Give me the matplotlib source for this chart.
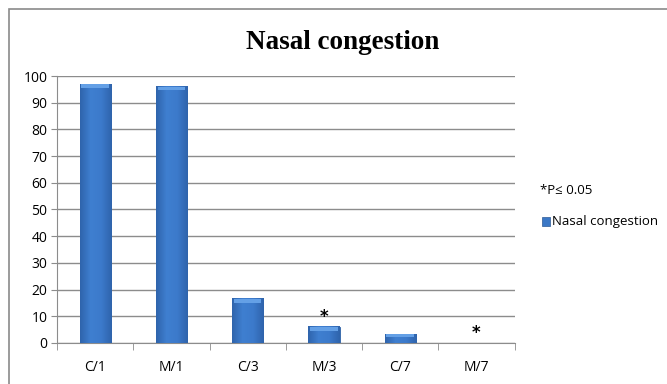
import numpy as np
import matplotlib
matplotlib.use('Agg')
import matplotlib.pyplot as plt
from matplotlib.patches import Rectangle
from matplotlib.colors import LinearSegmentedColormap

# data
categories = ['C/1', 'M/1', 'C/3', 'M/3', 'C/7', 'M/7']
values = [97, 96, 16.5, 6, 3.3, 0]
significant = [False, False, False, True, False, True]

plt.rcParams['font.family'] = ['Open Sans', 'DejaVu Sans']

fig = plt.figure(figsize=(6.67, 3.84), dpi=100)
fig.patches.append(Rectangle((0.0135, -0.05), 1.1, 1.027, transform=fig.transFigure,
                             fill=False, edgecolor='#8a8a8a', linewidth=1.2))

ax = fig.add_axes([0.0855, 0.107, 0.686, 0.695])
x = np.arange(len(categories))
bars = ax.bar(x, values, width=0.41, color='#3b78c6', edgecolor='#2f62a6',
              linewidth=0.6, zorder=3)

# horizontal shading on each bar (darker edges, lighter middle)
shade = LinearSegmentedColormap.from_list('shade', ['#2f64ac', '#3f7fd0', '#3c7acb', '#2f64ac'])
grad = np.linspace(0, 1, 64).reshape(1, -1)
for b in bars:
    h = b.get_height()
    if h <= 0:
        continue
    x0 = b.get_x()
    w = b.get_width()
    ax.imshow(grad, extent=(x0, x0 + w, 0, h), aspect='auto', cmap=shade,
              zorder=3.5, origin='lower')
    top = min(1.4, h * 0.3)
    ax.add_patch(Rectangle((x0 + w * 0.06, h - top), w * 0.88, top, facecolor='#64a0e6',
                           edgecolor='none', zorder=3.6))

for xi, v, s in zip(x, values, significant):
    if s:
        ax.text(xi, v + 0.3, '*', ha='center', va='bottom', fontsize=12,
                fontweight='bold', fontfamily='DejaVu Sans', zorder=4)

ax.set_xlim(-0.5, len(categories) - 0.5)
ax.set_ylim(0, 100)
ax.set_yticks(np.arange(0, 101, 10))
ax.yaxis.grid(True, color='#8c8c8c', linewidth=1.0, zorder=0)
ax.set_axisbelow(True)

ax.set_xticks(x)
ax.set_xticklabels(categories, fontsize=10)
ax.set_xticks(np.arange(-0.5, len(categories)), minor=True)
ax.tick_params(axis='x', which='major', length=0, pad=12)
ax.tick_params(axis='x', which='minor', length=5, color='#8c8c8c', direction='out')
ax.tick_params(axis='y', length=4, color='#8c8c8c', labelsize=10, pad=3)

for side in ['top', 'right']:
    ax.spines[side].set_visible(False)
for side in ['left', 'bottom']:
    ax.spines[side].set_color('#8c8c8c')

fig.text(0.513, 0.89, 'Nasal congestion', ha='center', va='center', fontsize=19.5,
         fontweight='bold', fontfamily='Liberation Serif')

fig.text(0.81, 0.505, '*P\u2264 0.05', ha='left', va='center', fontsize=9.5)
fig.patches.append(Rectangle((0.812, 0.412), 0.012, 0.022, transform=fig.transFigure,
                             facecolor='#3b78c6', edgecolor='#2c5a96', linewidth=0.5))
fig.text(0.828, 0.422, 'Nasal congestion', ha='left', va='center', fontsize=9.5)

fig.savefig('out.png', dpi=100)
